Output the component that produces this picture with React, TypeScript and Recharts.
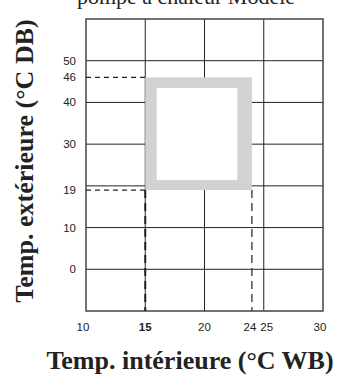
import React from 'react';
import { ComposedChart, XAxis, YAxis, ReferenceLine, ReferenceArea, CartesianGrid } from 'recharts';

const xTicks = [10, 15, 20, 24, 25, 30];
const yTicks = [0, 10, 19, 30, 40, 46, 50];
const xGrid = [15, 20, 25];
const yGrid = [0, 10, 20, 30, 40, 50];
const xDomain: [number, number] = [10, 30];
const yDomain: [number, number] = [-10, 60];
const zone = { x1: 15, x2: 24, y1: 19, y2: 46 };
const boldTick = 15;
const title = 'pompe à chaleur Modèle';
const xLabel = 'Temp. intérieure (°C WB)';
const yLabel = 'Temp. extérieure (°C DB)';

const SANS = '"Liberation Sans", Arial, sans-serif';
const SERIF = '"Liberation Serif", "Times New Roman", serif';

const XTick = (props: any) => {
  const { x, y, payload } = props;
  const v = payload.value;
  const shift = v === 24 ? -2 : v === 25 ? 3 : v === 10 || v === 30 ? -3 : 0;
  return (
    <text x={x + shift} y={y + 20} textAnchor="middle" fontFamily={SANS} fontSize={11.5}
      fontWeight={v === boldTick ? 'bold' : 'normal'} fill="#222">{v}</text>
  );
};

const YTick = (props: any) => {
  const { x, y, payload } = props;
  return (
    <text x={x - 10} y={y + 4} textAnchor="end" fontFamily={SANS} fontSize={11.5} fill="#222">{payload.value}</text>
  );
};

const ZoneShape = (props: any) => {
  const { x, y, width, height } = props;
  return (
    <g>
      <rect x={x} y={y} width={width} height={height} fill="#d1d2d4" />
      <rect x={x + 11.5} y={y + 10.5} width={width - 11.5 - 14.5} height={height - 10.5 - 10} fill="#ffffff" />
    </g>
  );
};

export default function App() {
  return (
    <div style={{ position: 'absolute', left: 0, top: 0, width: 358, height: 377, background: '#fff' }}>
      <ComposedChart width={358} height={377} data={[]} margin={{ top: 19, right: 35, bottom: 36, left: 56 }}>
        <CartesianGrid stroke="#222" strokeWidth={1} horizontalValues={yGrid} verticalValues={xGrid} />
        <XAxis type="number" dataKey="x" domain={xDomain} ticks={xTicks} allowDataOverflow
          axisLine={false} tickLine={false} tickSize={0} tickMargin={0} height={30} tick={<XTick />} interval={0} />
        <YAxis type="number" dataKey="y" domain={yDomain} ticks={yTicks} allowDataOverflow
          axisLine={false} tickLine={false} tickSize={0} tickMargin={0} width={30} tick={<YTick />} interval={0} />
        <ReferenceArea x1={xDomain[0]} x2={xDomain[1]} y1={yDomain[0]} y2={yDomain[1]} fill="none" stroke="#444" strokeWidth={1.5} ifOverflow="visible" />
        <ReferenceArea x1={zone.x1} x2={zone.x2} y1={zone.y1} y2={zone.y2} shape={<ZoneShape />} ifOverflow="visible" />
        <ReferenceLine segment={[{ x: xDomain[0], y: zone.y2 }, { x: zone.x1, y: zone.y2 }]} stroke="#222" strokeWidth={1.2} strokeDasharray="5 4" ifOverflow="visible" />
        <ReferenceLine segment={[{ x: xDomain[0], y: zone.y1 }, { x: zone.x1, y: zone.y1 }]} stroke="#222" strokeWidth={1.2} strokeDasharray="5 4" ifOverflow="visible" />
        <ReferenceLine segment={[{ x: zone.x1, y: zone.y1 }, { x: zone.x1, y: yDomain[0] }]} stroke="#222" strokeWidth={2} strokeDasharray="8 5" ifOverflow="visible" />
        <ReferenceLine segment={[{ x: zone.x2, y: zone.y1 }, { x: zone.x2, y: yDomain[0] }]} stroke="#222" strokeWidth={1.2} strokeDasharray="8 5" ifOverflow="visible" />
      </ComposedChart>
      <svg width={358} height={377} style={{ position: 'absolute', left: 0, top: 0, pointerEvents: 'none' }}>
        <text x={186} y={4} textAnchor="middle" fontFamily={SERIF} fontSize={22} fill="#222">{title}</text>
        <text x={190} y={369} textAnchor="middle" fontFamily={SERIF} fontSize={26} fontWeight="bold" fill="#222">{xLabel}</text>
        <text x={33} y={161} transform="rotate(-90 33 161)" textAnchor="middle" fontFamily={SERIF} fontSize={26} fontWeight="bold" fill="#222">{yLabel}</text>
      </svg>
    </div>
  );
}
